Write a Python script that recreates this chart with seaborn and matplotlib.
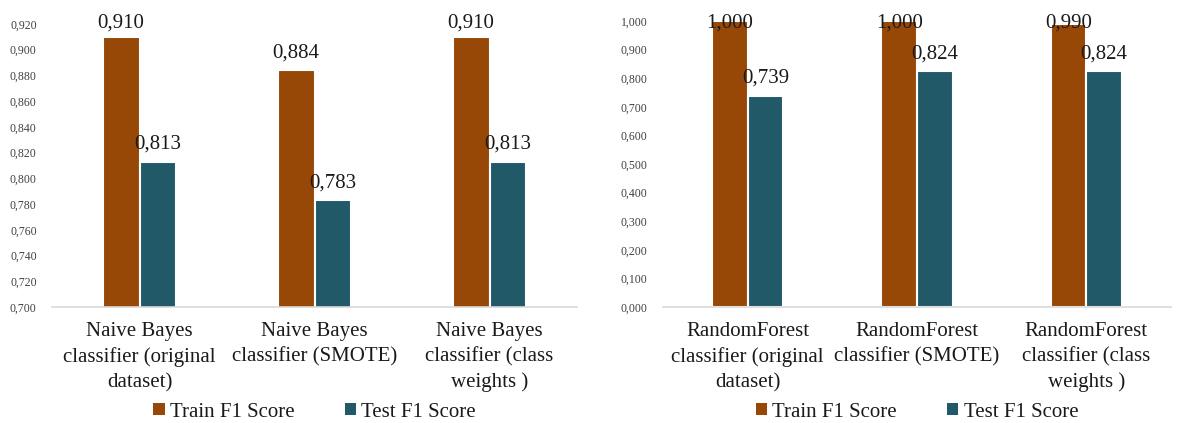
import matplotlib
matplotlib.use("Agg")
import matplotlib.pyplot as plt
from matplotlib.ticker import FuncFormatter, MultipleLocator
from matplotlib.patches import Patch
import pandas as pd
import seaborn as sns

# data
nb_models = ["Naive Bayes\nclassifier (original\ndataset)",
             "Naive Bayes\nclassifier (SMOTE)",
             "Naive Bayes\nclassifier (class\nweights )"]
nb_train = [0.910, 0.884, 0.910]
nb_test = [0.813, 0.783, 0.813]

rf_models = ["RandomForest\nclassifier (original\ndataset)",
             "RandomForest\nclassifier (SMOTE)",
             "RandomForest\nclassifier (class\nweights )"]
rf_train = [1.000, 1.000, 0.990]
rf_test = [0.739, 0.824, 0.824]

series = ["Train F1 Score", "Test F1 Score"]
colors = ["#974706", "#215968"]

sns.set_theme(style="white")
plt.rcParams["font.family"] = ["Liberation Serif", "DejaVu Serif"]

W, H = 1182, 423
fig = plt.figure(figsize=(W / 100, H / 100), dpi=100)
ax1 = fig.add_axes([52 / W, 1 - 307 / H, 525 / W, 283 / H])
ax2 = fig.add_axes([663 / W, 1 - 307 / H, 508 / W, 286 / H])


def comma(v, pos=None):
    return f"{v:.3f}".replace(".", ",")


def draw(ax, models, train, test, ylim, step):
    df = pd.DataFrame({
        "model": models * 2,
        "score": train + test,
        "series": [series[0]] * 3 + [series[1]] * 3,
    })
    sns.barplot(data=df, x="model", y="score", hue="series", palette=colors,
                saturation=1, width=0.42, edgecolor="white", linewidth=1.5,
                ax=ax, legend=False)
    ax.set_ylim(*ylim)
    ax.yaxis.set_major_locator(MultipleLocator(step))
    ax.yaxis.set_major_formatter(FuncFormatter(comma))
    ax.tick_params(axis="y", labelsize=8.5, labelcolor="#404040", pad=11, length=0)
    ax.tick_params(axis="x", labelsize=15, labelcolor="#1a1a1a", pad=11, length=0)
    for lab in ax.get_xticklabels():
        lab.set_linespacing(1.4)
    ax.set_xlabel("")
    ax.set_ylabel("")
    for s in ["top", "left", "right"]:
        ax.spines[s].set_visible(False)
    ax.spines["bottom"].set_color("#d9d9d9")
    ax.spines["bottom"].set_linewidth(1.2)

    # value labels above bars, kept inside the figure
    fig.canvas.draw()
    for cont in ax.containers:
        for bar, v in zip(cont.patches, cont.datavalues):
            cx = bar.get_x() + bar.get_width() / 2
            xd, ypx = ax.transData.transform((cx, v))
            ytxt = min(ypx + 8, H - 33)
            fig.text(xd / W, ytxt / H, comma(v), ha="center", va="bottom",
                     fontsize=15, color="#1a1a1a")


draw(ax1, nb_models, nb_train, nb_test, (0.7, 0.92), 0.02)
draw(ax2, rf_models, rf_train, rf_test, (0.0, 1.0), 0.1)

handles = [Patch(facecolor=c, edgecolor="none") for c in colors]
for ax in (ax1, ax2):
    pos = ax.get_position()
    fig.legend(handles, series, loc="center",
               bbox_to_anchor=(pos.x0 + pos.width / 2, 1 - 412 / H),
               ncol=2, frameon=False, fontsize=15, handlelength=0.55,
               handleheight=0.55, handletextpad=0.25, columnspacing=2.4,
               labelcolor="#1a1a1a")

fig.savefig("out.png", dpi=100)
